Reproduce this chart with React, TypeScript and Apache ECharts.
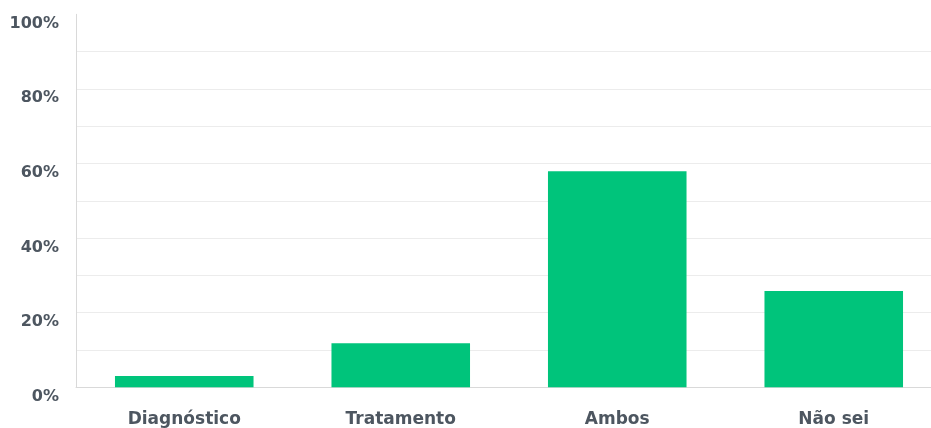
import React, { useEffect, useRef } from "react";
import * as echarts from "echarts";

const categories = ["Diagnóstico", "Tratamento", "Ambos", "Não sei"];
const values = [3.0, 11.8, 57.9, 25.8];
const yTicks = [0, 20, 40, 60, 80, 100];

export default function App() {
  const ref = useRef<HTMLDivElement>(null);
  useEffect(() => {
    document.body.style.margin = "0";
    document.body.style.overflow = "hidden";
    const chart = echarts.init(ref.current!, null, { renderer: "svg" });
    const textColor = "#4d5660";
    const font = "'DejaVu Sans', sans-serif";
    chart.setOption({
      animation: false,
      grid: { left: 76, right: 18, top: 14.3, bottom: 40.7, containLabel: false },
      xAxis: {
        type: "category",
        data: categories,
        axisTick: { show: false },
        axisLine: { show: true, lineStyle: { color: "#d9d9d9", width: 1 } },
        axisLabel: {
          color: textColor,
          fontFamily: font,
          fontWeight: "bold",
          fontSize: 17,
          margin: 22,
        },
      },
      yAxis: {
        type: "value",
        min: 0,
        max: 100,
        interval: 10,
        axisLine: { show: true, lineStyle: { color: "#d9d9d9", width: 1 } },
        axisTick: { show: false },
        splitLine: {
          show: true,
          lineStyle: {
            color: [
              "#ececec", "#ececec", "#ececec", "#ececec", "#ececec", "#ececec",
              "#ececec", "#ececec", "#ececec", "#ececec", "transparent",
            ],
            width: 1,
          },
        },
        axisLabel: {
          color: textColor,
          fontFamily: font,
          fontWeight: "bold",
          fontSize: 16,
          margin: 17,
          verticalAlign: "top",
          formatter: (v: number) => (yTicks.includes(v) ? v + "%" : ""),
        },
      },
      series: [
        {
          type: "bar",
          data: values,
          barWidth: "64%",
          itemStyle: { color: "#00c47b" },
        },
      ],
    });
    return () => chart.dispose();
  }, []);
  return (
    <div
      ref={ref}
      style={{ position: "fixed", left: 0, top: 0, width: 960, height: 428 }}
    />
  );
}
